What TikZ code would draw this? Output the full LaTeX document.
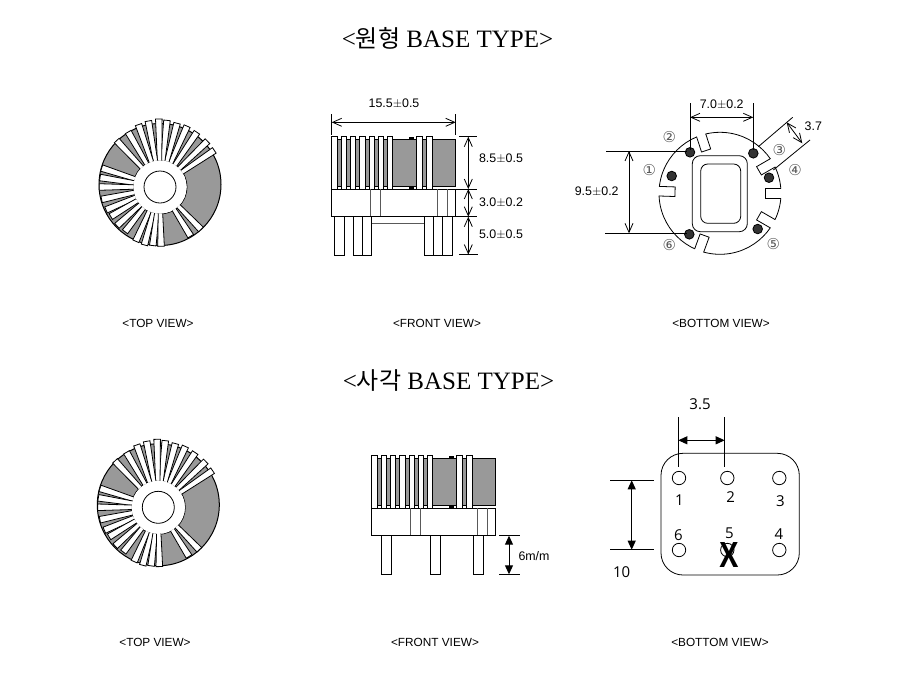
\documentclass[tikz,border=0pt]{standalone}
\usepackage{fontspec}
\setmainfont{Liberation Sans}
\newfontfamily\titlefont{Liberation Serif}
\newfontfamily\cjkfont{Noto Sans CJK KR}
\newfontfamily\pinfont{Open Sans}
\newfontfamily\circfont{DejaVu Sans}
\usetikzlibrary{arrows.meta}
\definecolor{coilgray}{gray}{0.6}
\definecolor{linegray}{gray}{0.35}

\begin{document}
\begin{tikzpicture}[x=1pt, y=-1pt, line width=0.8pt,
	title/.style={font=\titlefont\fontsize{25}{27}\selectfont},
	viewname/.style={font=\fontsize{11.8}{13}\selectfont},
	dimtext/.style={font=\fontsize{12.4}{14}\selectfont},
	pintext/.style={font=\pinfont\fontsize{15}{17}\selectfont, inner sep=0pt},
	circnum/.style={font=\circfont\fontsize{15}{17}\selectfont, text=linegray, inner sep=0pt},
	opendim/.style={{Straight Barb[length=9pt,width=8pt]}-{Straight Barb[length=9pt,width=8pt]}},
	soliddim/.style={line width=1pt, {Stealth[length=9pt,width=8pt,inset=0pt]}-{Stealth[length=9pt,width=8pt,inset=0pt]}},
	winding/.style={fill=white, draw=black},
	pinbox/.style={fill=white, draw=black},
	blackpin/.style={fill=black!80, draw=black},
	pics/toroid/.style={code={
		\draw[fill=coilgray, line width=1pt] (0,-2.5) circle (61);
		\draw[fill=white] (0,0) circle (27);
		\foreach \a/\l in {34/65.5,44/66,56/66,66/66.6,75/66,84/67,91/68,100/67,109/66,120/63.5,133/63.5,162/61.3,171/60.7,180/60.7,192/59.7,203/58.6,211/57.4,222/58,232/56.8,246/59.4,255/60,263/59,271/59.3,302/58,314/59}
			\draw[winding, rotate=\a] (26,-2.2) -- (\l,-3.3) -- (\l,3.3) -- (26,2.2) -- cycle;
		\fill[white] (0,0) circle (26.6);
		\draw[fill=white] (0,0) circle (16);
	}},
	pics/coil/.style={code={
		\draw[fill=coilgray] (0,2.3) rectangle (124,50);
		\fill[black] (77,0) rectangle (82.3,2.3);
		\fill[black] (77,50) rectangle (82.3,52.3);
		\foreach \x in {0,9.3,...,56}
			\draw[winding] (\x,0) rectangle ++(5.3,52.3);
		\foreach \x in {85,95}
			\draw[winding] (\x,0) rectangle ++(5.3,52.3);
		\draw[pinbox] (0,52.3) rectangle (124,80);
		\foreach \x in {39,49,105.6,115.6}
			\draw[linegray] (\x,52.3) -- (\x,80);
		\draw (0,80) -- (124,80);
	}}]
	\useasboundingbox (0,0) rectangle (900,697);

	% titles
	\node[title] (titleround) at (447.5,38) {<{\cjkfont\fontsize{24}{27}\selectfont 원형} BASE TYPE>};
	\node[title] (titlesquare) at (448.5,381) {<{\cjkfont\fontsize{24}{27}\selectfont 사각} BASE TYPE>};

	% round base, top view
	\pic at (160,187) {toroid};
	\node[viewname] (toproundname) at (158,323) {<TOP VIEW>};

	% round base, front view
	\foreach \x/\w in {334.7/10,353.3/9.4,362.7/9,424/9.3,433.3/9.4,442.7/9.3}
		\draw[pinbox] (\x,216.7) rectangle ++(\w,38.3);
	\draw[linegray, line width=1pt] (371.7,223.5) -- (424,223.5);
	\pic at (331.7,136.7) {coil};
	\node[viewname] (frontroundname) at (437,323) {<FRONT VIEW>};
	\node[dimtext] (dimwidth) at (394,104) {15.5$\pm$0.5};
	\node[dimtext] (dimcoil) at (501,158.3) {8.5$\pm$0.5};
	\node[dimtext] (dimbase) at (501,202.3) {3.0$\pm$0.2};
	\node[dimtext] (dimlead) at (501,235) {5.0$\pm$0.5};
	\coordinate (w1) at (331.7,122.3);
	\coordinate (w2) at (455.7,122.3);
	\coordinate (h1) at (468.3,136.7);
	\coordinate (h2) at (468.3,189);
	\coordinate (h3) at (468.3,216.7);
	\coordinate (h4) at (468.3,254.5);
	\draw (331.7,114) -- (331.7,135);
	\draw (455.7,114) -- (455.7,135);
	\draw (459,136.7) -- (476.7,136.7);
	\draw (455.7,189) -- (476.7,189);
	\draw (455.7,216.7) -- (476.7,216.7);
	\draw (459,254.5) -- (477.5,254.5);
	\draw[opendim] (w1) -- (w2);
	\draw[opendim] (h1) -- (h2);
	\draw[opendim] (h2) -- (h3);
	\draw[opendim] (h3) -- (h4);

	% round base, bottom view
	\draw[fill=white] (720,193.3) circle (61);
	\foreach \a in {108,178,30,0,-30,250} {
		\fill[white, shift={(720,193.3)}, rotate=\a] (45,-4.4) rectangle (63,4.4);
		\draw[shift={(720,193.3)}, rotate=\a] (60.8,-4.8) -- (45,-4.8) -- (45,4.8) -- (60.8,4.8);
	}
	\draw[rounded corners=8] (692.3,155.7) rectangle (747.3,231.7);
	\draw[rounded corners=7] (700.7,164) rectangle (740.7,223.3);
	\foreach \x/\y in {690/152.3,671.7/176,689.3/234.3,753.3/153.3,769/177.7,757.7/229}
		\draw[blackpin] (\x,\y) circle (4.8);
	\node[circnum] (c1) at (649.3,170) {①};
	\node[circnum] (c2) at (669.3,137.3) {②};
	\node[circnum] (c3) at (779.3,150) {③};
	\node[circnum] (c4) at (795,170) {④};
	\node[circnum] (c5) at (773.3,244.3) {⑤};
	\node[circnum] (c6) at (669.3,245) {⑥};
	\node[viewname] (bottomroundname) at (721,323) {<BOTTOM VIEW>};
	\node[dimtext] (dimpitch) at (721.7,104.3) {7.0$\pm$0.2};
	\node[dimtext] (dimrow) at (596.7,191.7) {9.5$\pm$0.2};
	\node[dimtext] (dimslot) at (813.3,126.7) {3.7};
	\coordinate (p1) at (690,117.3);
	\coordinate (p2) at (753.3,117.3);
	\coordinate (r1) at (629,151);
	\coordinate (r2) at (629,233.3);
	\coordinate (s1) at (786.7,122.3);
	\coordinate (s2) at (802.3,143.3);
	\draw (690,103.3) -- (690,150);
	\draw (753.3,103.3) -- (753.3,150);
	\draw (606,151) -- (687,151);
	\draw (605,233.3) -- (686.7,233.3);
	\draw (758.3,146.7) -- (792.7,117.3);
	\draw (773.3,170) -- (810,140);
	\draw[opendim] (p1) -- (p2);
	\draw[opendim] (r1) -- (r2);
	\draw[opendim] (s1) -- (s2);

	% square base, top view
	\pic at (158.3,507.3) {toroid};
	\node[viewname] (topsquarename) at (155,642) {<TOP VIEW>};

	% square base, front view
	\foreach \x in {381.3,430.3,473.3}
		\draw[pinbox] (\x,535.7) rectangle ++(10,38.6);
	\pic at (371.7,455.7) {coil};
	\node[viewname] (frontsquarename) at (435,642) {<FRONT VIEW>};
	\node[dimtext] (dimpin) at (534,556) {6m/m};
	\coordinate (q1) at (509,535.7);
	\coordinate (q2) at (509,574.3);
	\draw (499,535.7) -- (520,535.7);
	\draw (499,574.3) -- (520,574.3);
	\draw[soliddim] (q1) -- (q2);

	% square base, bottom view
	\draw[rounded corners=22] (661,453.3) rectangle (799.3,575);
	\foreach \x/\y/\n in {679/478/a,727.3/478/b,779.3/478/c,679/550/d,727.3/550/e,779.3/550/f}
		\node[draw, circle, minimum size=13.4pt, inner sep=0pt] (hole\n) at (\x,\y) {};
	\node[pintext] (n1) at (679.3,500) {1};
	\node[pintext] (n2) at (730.7,497.3) {2};
	\node[pintext] (n3) at (780.3,500.7) {3};
	\node[pintext] (n6) at (678.3,535.3) {6};
	\node[pintext] (n5) at (729.3,533.3) {5};
	\node[pintext] (n4) at (779,534) {4};
	\node[font=\pinfont\bfseries\fontsize{35}{37}\selectfont, inner sep=0pt, xscale=0.8] (cross) at (729,555) {X};
	\node[viewname] (bottomsquarename) at (720,642) {<BOTTOM VIEW>};
	\node[pintext] (dimthree) at (700,404) {3.5};
	\node[pintext] (dimten) at (621.7,572.3) {10};
	\coordinate (t1) at (678.3,440.3);
	\coordinate (t2) at (724.7,440.3);
	\coordinate (u1) at (631.7,480.3);
	\coordinate (u2) at (631.7,549.7);
	\draw (678.3,417.3) -- (678.3,467.3);
	\draw (724.7,417.3) -- (724.7,467.3);
	\draw (610,480.3) -- (654,480.3);
	\draw (610,549.7) -- (654,549.7);
	\draw[soliddim] (t1) -- (t2);
	\draw[soliddim] (u1) -- (u2);
\end{tikzpicture}
\end{document}
